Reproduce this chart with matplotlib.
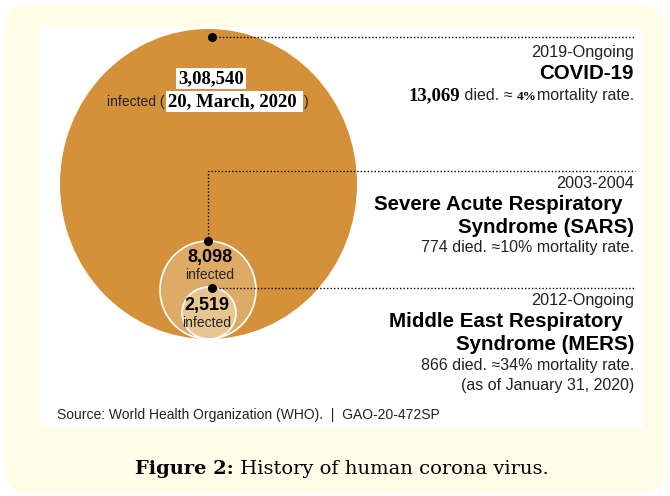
import matplotlib.pyplot as plt
from matplotlib.patches import Ellipse, FancyBboxPatch, Rectangle

# chart content
periods = ["2019-Ongoing", "2003-2004", "2012-Ongoing"]
names = ["COVID-19", "Severe Acute Respiratory\nSyndrome (SARS)", "Middle East Respiratory\nSyndrome (MERS)"]
infected = ["3,08,540", "8,098", "2,519"]
deaths = ["13,069", "774", "866"]
mortality = ["4%", "10%", "34%"]
covid_date = "20, March, 2020"
mers_note = "(as of January 31, 2020)"
source = "Source: World Health Organization (WHO).  |  GAO-20-472SP"

SANS = "Liberation Sans"
SERIF = "Liberation Serif"
ORANGE = ["#D4913A", "#DEAB66", "#E8C691"]

fig = plt.figure(figsize=(6.7, 4.96), dpi=100)
fig.patch.set_facecolor("white")
ax = fig.add_axes([0, 0, 1, 1])
ax.set_xlim(0, 670)
ax.set_ylim(496, 0)
ax.axis("off")

# cream frame + white panel
ax.add_patch(FancyBboxPatch((5, 5), 660, 488, boxstyle="round,pad=0,rounding_size=25",
                            facecolor="#FFFCE8", edgecolor="none"))
ax.add_patch(Rectangle((40, 27), 603, 401, facecolor="white", edgecolor="none"))

# bubbles (centres / sizes in px)
ax.add_patch(Ellipse((208.5, 184), 297, 310, facecolor=ORANGE[0], edgecolor="none"))
ax.add_patch(Ellipse((208, 290), 96, 98, facecolor=ORANGE[1], edgecolor="white", lw=1.2))
ax.add_patch(Ellipse((209, 313), 54, 52, facecolor=ORANGE[2], edgecolor="white", lw=1.2))

# leader lines
dot = dict(color="black", ls=(0, (1, 1.5)), lw=1)
ax.plot([212, 635], [37, 37], **dot)
ax.plot([208, 208, 635], [241, 171, 171], **dot)
ax.plot([212, 635], [288, 288], **dot)
ax.plot([212, 208, 212], [37, 241, 288], "o", color="black", ms=5.5, ls="none")

renderer = fig.canvas.get_renderer()


def right_pieces(x, y, pieces):
    for s, kw in reversed(pieces):
        t = ax.text(x, y, s, ha="right", va="baseline", **kw)
        x -= t.get_window_extent(renderer).width


RX = 634
reg = dict(family=SANS, fontsize=11.5, color="#222222")
per = dict(family=SANS, fontsize=11.7, color="#222222")
bold = dict(family=SANS, fontsize=14.8, fontweight="bold", color="black")

# COVID-19
ax.text(RX, 57, periods[0], ha="right", va="baseline", **per)
ax.text(RX, 79, names[0], ha="right", va="baseline", **bold)
right_pieces(RX, 100, [
    (deaths[0], dict(family=SERIF, fontsize=13.5, fontweight="bold", color="black")),
    (" died. \u2248 ", reg),
    (mortality[0], dict(family=SERIF, fontsize=9.5, fontweight="bold", color="black")),
    ("mortality rate.", reg),
])

# SARS
ax.text(RX, 188, periods[1], ha="right", va="baseline", **per)
for i, line in enumerate(names[1].split("\n")):
    ax.text(RX, 210 + 23 * i, line + ("  " if i == 0 else ""), ha="right", va="baseline", **bold)
ax.text(RX, 252, f"{deaths[1]} died. \u2248{mortality[1]} mortality rate.", ha="right", va="baseline", **reg)

# MERS
ax.text(RX, 305, periods[2], ha="right", va="baseline", **per)
for i, line in enumerate(names[2].split("\n")):
    ax.text(RX, 327 + 23 * i, line + ("  " if i == 0 else ""), ha="right", va="baseline", **bold)
ax.text(RX, 370, f"{deaths[2]} died. \u2248{mortality[2]} mortality rate.", ha="right", va="baseline", **reg)
ax.text(RX, 390, mers_note, ha="right", va="baseline", **reg)

# labels inside bubbles
ax.text(211, 83, infected[0], ha="center", va="baseline", family=SERIF, fontsize=13.5,
        fontweight="bold", bbox=dict(facecolor="white", edgecolor="none", pad=1.5))
ax.text(165, 106, "infected (", ha="right", va="baseline", family=SANS, fontsize=10,
        color="#222222")
t = ax.text(168, 106, covid_date + " ", ha="left", va="baseline", family=SERIF, fontsize=13.5,
            fontweight="bold", bbox=dict(facecolor="white", edgecolor="none", pad=1.5))
ax.text(168 + t.get_window_extent(renderer).width + 3, 106, ")", ha="left", va="baseline",
        family=SANS, fontsize=10, color="#222222")

ax.text(210, 262, infected[1], ha="center", va="baseline", family=SANS, fontsize=13,
        fontweight="bold")
ax.text(210, 279, "infected", ha="center", va="baseline", family=SANS, fontsize=10,
        color="#222222")
ax.text(207, 310, infected[2], ha="center", va="baseline", family=SANS, fontsize=13,
        fontweight="bold")
ax.text(207, 327, "infected", ha="center", va="baseline", family=SANS, fontsize=10,
        color="#222222")

# source + caption
ax.text(57, 419, source, ha="left", va="baseline", family=SANS, fontsize=10, color="#222222")
cap_bold = ax.text(0, 0, "Figure 2:", family="DejaVu Serif", fontsize=14, fontweight="bold")
cap_reg = ax.text(0, 0, " History of human corona virus.", family="DejaVu Serif", fontsize=14)
wb = cap_bold.get_window_extent(renderer).width
wr = cap_reg.get_window_extent(renderer).width
x0 = 342 - (wb + wr) / 2
cap_bold.set_position((x0, 474))
cap_reg.set_position((x0 + wb, 474))
for c in (cap_bold, cap_reg):
    c.set_va("baseline")
    c.set_color("black")

fig.savefig("out.png", dpi=100)
